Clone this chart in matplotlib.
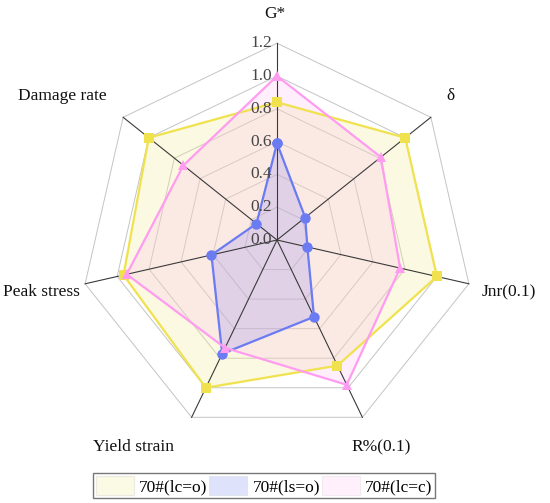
import matplotlib

matplotlib.use("Agg")

import matplotlib.pyplot as plt
import numpy as np
from matplotlib.patches import Patch

categories = ["G*", "δ", "Jnr(0.1)", "R%(0.1)", "Yield strain", "Peak stress", "Damage rate"]
series_names = ["70#(lc=o)", "70#(ls=o)", "70#(lc=c)"]
lc_open = [0.84, 1.00, 1.00, 0.85, 1.00, 0.96, 1.00]
ls_open = [0.59, 0.22, 0.19, 0.52, 0.77, 0.41, 0.16]
lc_closed = [1.00, 0.81, 0.77, 0.98, 0.73, 0.94, 0.73]
radial_ticks = [0.0, 0.2, 0.4, 0.6, 0.8, 1.0, 1.2]

# label anchor points (axis units)
label_xy = [(-0.01, 1.38), (1.06, 0.88), (1.415, -0.317), (0.634, -1.262),
            (-0.872, -1.262), (-1.436, -0.317), (-1.311, 0.878)]

plt.rcParams["font.family"] = ["Liberation Serif", "DejaVu Serif"]

n = len(categories)
angles = np.arange(n) * 2 * np.pi / n
ux = np.sin(angles)
uy = np.cos(angles)


def ring(values):
    values = np.asarray(values, dtype=float)
    x = values * ux
    y = values * uy
    return np.append(x, x[0]), np.append(y, y[0])


fig = plt.figure(figsize=(5.5, 5.03), dpi=100)
ax = fig.add_axes([0, 0, 1, 1])
ax.set_xlim(-277 / 164, 273 / 164)
ax.set_ylim(-263 / 164, 240 / 164)
ax.axis("off")

# heptagon grid
rmax = radial_ticks[-1]
for r in radial_ticks[1:]:
    gx, gy = ring([r] * n)
    ax.plot(gx, gy, color="#c4c4c4", lw=0.7, zorder=1)
for k in range(n):
    ax.plot([0, rmax * ux[k]], [0, rmax * uy[k]], color="#3a3a3a", lw=0.8, zorder=4)

styles = [
    (lc_open, "#f0e24e", "#f2ec94", "s", 0.28),
    (ls_open, "#6b7bf2", "#7080f0", "o", 0.25),
    (lc_closed, "#ff9cf0", "#ffb4f2", "^", 0.22),
]
for i, (vals, line_c, fill_c, mk, alpha) in enumerate(styles):
    px, py = ring(vals)
    ax.fill(px, py, color=fill_c, alpha=alpha, lw=0, zorder=2 + i * 0.1)
    ax.plot(px, py, color=line_c, lw=1.6, marker=mk, markersize=7.5,
            markeredgewidth=0, zorder=5 + i)

for r in radial_ticks:
    ax.text(-0.032, r, f"{r:.1f}", ha="right", va="center", fontsize=12.5,
            color="#454545", zorder=10)

for name, (lx, ly) in zip(categories, label_xy):
    ax.text(lx, ly, name, ha="center", va="center", fontsize=12.5, color="#111111")

handles = []
for (vals, line_c, fill_c, mk, alpha) in styles:
    handles.append(Patch(facecolor=fill_c, alpha=alpha * 0.9, edgecolor="#bbbbbb", lw=0.8))
leg = ax.legend(handles, series_names, loc="center", bbox_to_anchor=(0.48, 0.035),
                ncol=3, frameon=True, fancybox=False, fontsize=12.5,
                handlelength=2.2, handleheight=1.3, handletextpad=0.3,
                columnspacing=0.1, borderpad=0.15, borderaxespad=0)
leg.get_frame().set_edgecolor("#555555")
leg.get_frame().set_linewidth(1.0)

fig.savefig("out.png", dpi=100)
